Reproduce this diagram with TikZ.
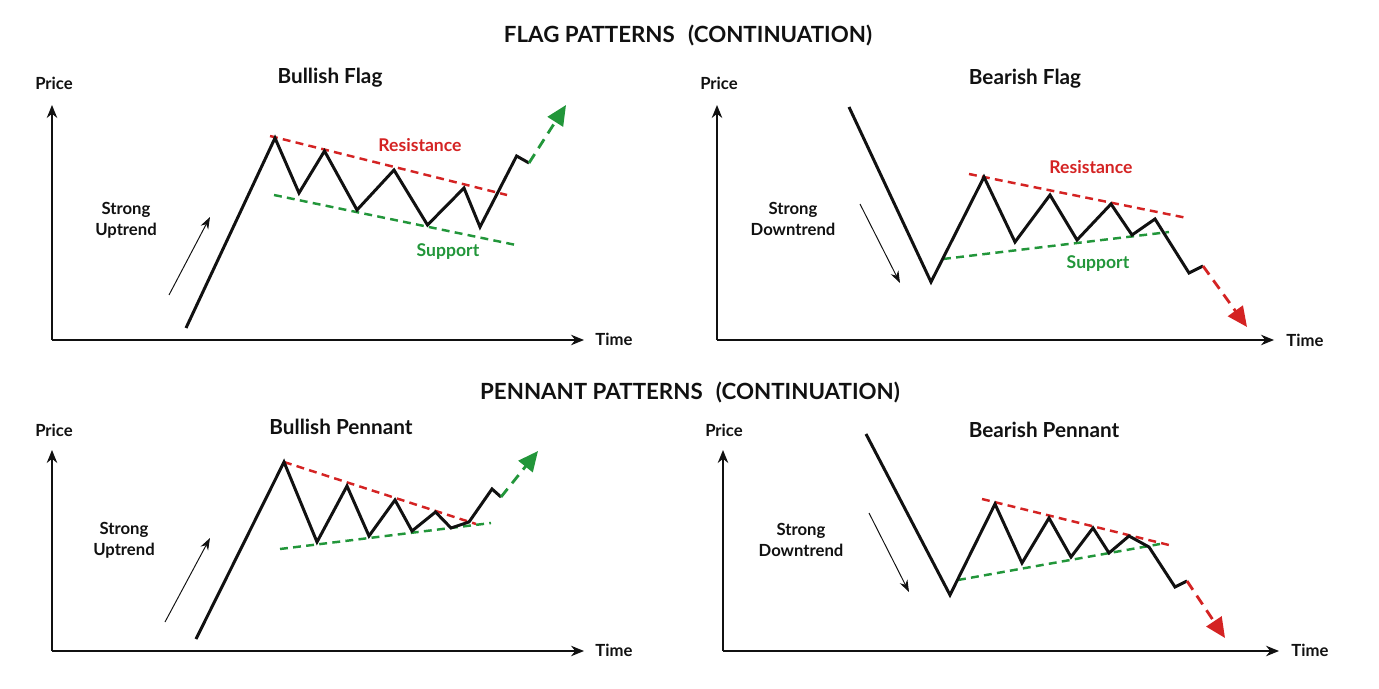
\documentclass[tikz,border=0pt]{standalone}
\usepackage{fontspec}
\setmainfont{Lato}
\usetikzlibrary{arrows.meta,positioning}
\definecolor{bearred}{HTML}{D42323}
\definecolor{bullgreen}{HTML}{22963A}
\definecolor{ink}{HTML}{111111}
\tikzset{
  axis/.style={draw=ink,line width=0.85pt,-{Stealth[length=2.6mm,width=2.1mm]}},
  price/.style={draw=ink,line width=1.7pt,line join=miter},
  hint/.style={draw=ink,line width=0.55pt,-{Stealth[length=2.4mm,width=1.7mm]}},
  resist/.style={draw=bearred,line width=1.4pt,dash pattern=on 4.5pt off 3pt},
  supp/.style={draw=bullgreen,line width=1.4pt,dash pattern=on 4.5pt off 3pt},
  upbreak/.style={draw=bullgreen,line width=1.6pt,dash pattern=on 6pt off 4pt,-{Triangle[length=4mm,width=3.6mm,fill=bullgreen]}},
  downbreak/.style={draw=bearred,line width=1.6pt,dash pattern=on 6pt off 4pt,-{Triangle[length=4mm,width=3.6mm,fill=bearred]}},
  bigtitle/.style={font=\fontsize{12.7}{14}\selectfont\bfseries,text=ink},
  paneltitle/.style={font=\fontsize{11.8}{13}\selectfont\bfseries,text=ink},
  axlabel/.style={font=\fontsize{9.5}{11}\selectfont\bfseries,text=ink},
  trendlabel/.style={font=\fontsize{9.5}{12}\selectfont\bfseries,text=ink,align=center},
  redlabel/.style={font=\fontsize{10}{11}\selectfont\bfseries,text=bearred},
  greenlabel/.style={font=\fontsize{10}{11}\selectfont\bfseries,text=bullgreen}
}
\begin{document}
\begin{tikzpicture}[x=0.02cm,y=-0.02cm]
  \useasboundingbox (0,0) rectangle (1379,689);
  \node[bigtitle] (flagtitle) at (688,36) {FLAG PATTERNS\hspace{0.35em} (CONTINUATION)};
  \node[bigtitle] (penntitle) at (690,393) {PENNANT PATTERNS\hspace{0.35em} (CONTINUATION)};

  % bullish flag
  \coordinate (o1) at (52,340);
  \coordinate (y1) at (52,105);
  \coordinate (x1) at (584,340);
  \draw[axis] (o1) -- (y1);
  \draw[axis] (o1) -- (x1);
  \node[axlabel] (price1) at (54,83) {Price};
  \node[axlabel] (time1) at (614,339) {Time};
  \node[paneltitle] (title1) at (330,78) {Bullish Flag};
  \node[trendlabel] (trend1) at (126,220) {Strong\\Uptrend};
  \coordinate (h1a) at (169,295);
  \coordinate (h1b) at (210,217);
  \draw[hint] (h1a) -- (h1b);
  \draw[resist] (270,136) -- (507,195);
  \draw[supp] (274,195) -- (516,245);
  \draw[price] (186,328) -- (275,138) -- (299,193) -- (324.5,151) -- (357,210) -- (394,170) -- (427.5,225) -- (464,188) -- (480,227) -- (516.6,156) -- (529,163) coordinate (e1);
  \coordinate (t1) at (566,105);
  \draw[upbreak] (e1) -- (t1);
  \node[redlabel] (res1) at (420,145) {Resistance};
  \node[greenlabel] (sup1) at (448,252) {Support};

  % bearish flag
  \coordinate (o2) at (717,340);
  \coordinate (y2) at (717,105);
  \coordinate (x2) at (1274,340);
  \draw[axis] (o2) -- (y2);
  \draw[axis] (o2) -- (x2);
  \node[axlabel] (price2) at (719,83) {Price};
  \node[axlabel] (time2) at (1305,340) {Time};
  \node[paneltitle] (title2) at (1025,79) {Bearish Flag};
  \node[trendlabel] (trend2) at (793,219) {Strong\\Downtrend};
  \coordinate (h2a) at (860,204);
  \coordinate (h2b) at (900,283);
  \draw[hint] (h2a) -- (h2b);
  \draw[resist] (969,174) -- (1187,218);
  \draw[supp] (943,259) -- (1169,232);
  \draw[price] (849,107) -- (931,282) -- (984,177) -- (1015,242) -- (1050,195) -- (1077,240) -- (1111,204) -- (1132,235) -- (1155,219) -- (1189,273) -- (1203,266) coordinate (e2);
  \coordinate (t2) at (1247,327);
  \draw[downbreak] (e2) -- (t2);
  \node[redlabel] (res2) at (1091,167) {Resistance};
  \node[greenlabel] (sup2) at (1098,264) {Support};

  % bullish pennant
  \coordinate (o3) at (52,651);
  \coordinate (y3) at (52,450);
  \coordinate (x3) at (584,651);
  \draw[axis] (o3) -- (y3);
  \draw[axis] (o3) -- (x3);
  \node[axlabel] (price3) at (54,430) {Price};
  \node[axlabel] (time3) at (614,650) {Time};
  \node[paneltitle] (title3) at (341,427) {Bullish Pennant};
  \node[trendlabel] (trend3) at (124,540) {Strong\\Uptrend};
  \coordinate (h3a) at (165,622);
  \coordinate (h3b) at (210,538);
  \draw[hint] (h3a) -- (h3b);
  \draw[resist] (284,462) -- (476,524);
  \draw[supp] (280,549) -- (491,523);
  \draw[price] (196,639) -- (284,462) -- (317,542) -- (347,486) -- (369,536) -- (395,500) -- (412,531) -- (435.5,512) -- (451,528) -- (469,522) -- (492,489) -- (501,497) coordinate (e3);
  \coordinate (t3) at (538,451);
  \draw[upbreak] (e3) -- (t3);

  % bearish pennant
  \coordinate (o4) at (723,651);
  \coordinate (y4) at (723,450);
  \coordinate (x4) at (1279,651);
  \draw[axis] (o4) -- (y4);
  \draw[axis] (o4) -- (x4);
  \node[axlabel] (price4) at (724,430) {Price};
  \node[axlabel] (time4) at (1310,650) {Time};
  \node[paneltitle] (title4) at (1044,430) {Bearish Pennant};
  \node[trendlabel] (trend4) at (801,540) {Strong\\Downtrend};
  \coordinate (h4a) at (869,513);
  \coordinate (h4b) at (909,592);
  \draw[hint] (h4a) -- (h4b);
  \draw[resist] (982,499) -- (1173,546);
  \draw[supp] (958,580) -- (1160,544);
  \draw[price] (866,434) -- (950,595) -- (995,504) -- (1022,563) -- (1049,518) -- (1071,557) -- (1093,528) -- (1109,553) -- (1129,536) -- (1149,547) -- (1175,587) -- (1187,581) coordinate (e4);
  \coordinate (t4) at (1225,638);
  \draw[downbreak] (e4) -- (t4);
\end{tikzpicture}
\end{document}
